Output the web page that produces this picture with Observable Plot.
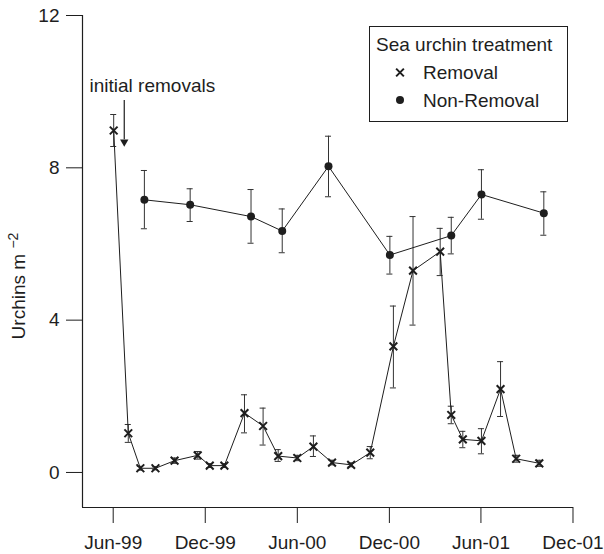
<!DOCTYPE html>
<html>
<head>
<meta charset="utf-8">
<script src="https://cdn.jsdelivr.net/npm/d3@7"></script>
<script src="https://cdn.jsdelivr.net/npm/@observablehq/plot@0.6"></script>
<style>
  html, body { margin: 0; padding: 0; background: #fff; }
</style>
</head>
<body>
<div id="chart"></div>
<script>
// ---- Data ----
const removalDates = ["1999-06-02","1999-07-01","1999-07-25","1999-08-24","1999-10-01","1999-11-16","1999-12-10","2000-01-08","2000-02-17","2000-03-25","2000-04-24","2000-06-01","2000-07-03","2000-08-09","2000-09-16","2000-10-24","2000-12-09","2001-01-17","2001-03-12","2001-04-03","2001-04-26","2001-06-02","2001-07-10","2001-08-10","2001-09-25"];
const removalMean  = [8.98, 1.03, 0.11, 0.11, 0.31, 0.45, 0.18, 0.18, 1.56, 1.22, 0.43, 0.38, 0.68, 0.26, 0.20, 0.52, 3.31, 5.30, 5.80, 1.51, 0.87, 0.83, 2.19, 0.36, 0.24];
const removalLow   = [8.56, 0.79, 0.06, 0.07, 0.24, 0.35, 0.13, 0.13, 1.04, 0.72, 0.29, 0.31, 0.42, 0.20, 0.15, 0.36, 2.22, 3.87, 5.17, 1.28, 0.65, 0.49, 1.47, 0.27, 0.16];
const removalHigh  = [9.40, 1.26, 0.16, 0.15, 0.38, 0.55, 0.23, 0.23, 2.04, 1.69, 0.60, 0.45, 0.96, 0.32, 0.25, 0.68, 4.37, 6.72, 6.41, 1.74, 1.08, 1.15, 2.91, 0.45, 0.32];

const nonRemovalDates = ["1999-08-02","1999-11-01","2000-03-01","2000-05-02","2000-08-02","2000-12-02","2001-04-03","2001-06-02","2001-10-04"];
const nonRemovalMean  = [7.16, 7.03, 6.72, 6.34, 8.04, 5.71, 6.22, 7.30, 6.81];
const nonRemovalLow   = [6.40, 6.59, 6.02, 5.77, 7.24, 5.21, 5.74, 6.65, 6.23];
const nonRemovalHigh  = [7.93, 7.45, 7.43, 6.92, 8.83, 6.20, 6.70, 7.95, 7.37];

const yTicks = [0, 4, 8, 12];
const xTickDates  = ["1999-06-01","1999-12-01","2000-06-01","2000-12-01","2001-06-01","2001-12-01"];
const xTickLabels = ["Jun-99","Dec-99","Jun-00","Dec-00","Jun-01","Dec-01"];

const seriesNames = ["Removal", "Non-Removal"];
const legendTitle = "Sea urchin treatment";
const annotationText = "initial removals";

// ---- Build ----
const parse = d3.utcParse("%Y-%m-%d");
const rows = (dates, mean, lo, hi, group) =>
  dates.map((d, i) => ({date: parse(d), mean: mean[i], lo: lo[i], hi: hi[i], group}));
const removal = rows(removalDates, removalMean, removalLow, removalHigh, seriesNames[0]);
const nonRemoval = rows(nonRemovalDates, nonRemovalMean, nonRemovalLow, nonRemovalHigh, seriesNames[1]);

const tickLabelMap = new Map(xTickDates.map((d, i) => [+parse(d), xTickLabels[i]]));

const ink = "#1e1e1e";
const barInk = "#333";
const font = "'Liberation Sans', Arial, Helvetica, sans-serif";
const fs = "19px";
const xStart = parse("1999-04-01"), xEnd = parse("2001-12-02");
const yMin = -0.92, yMax = 12;
const capDays = 6;

function errorBars(data) {
  return [
    Plot.ruleX(data, {x: "date", y1: "lo", y2: "hi", stroke: barInk, strokeWidth: 1}),
    Plot.ruleY(data, {y: "hi", x1: d => d3.utcDay.offset(d.date, -capDays), x2: d => d3.utcDay.offset(d.date, capDays), stroke: barInk, strokeWidth: 1}),
    Plot.ruleY(data, {y: "lo", x1: d => d3.utcDay.offset(d.date, -capDays), x2: d => d3.utcDay.offset(d.date, capDays), stroke: barInk, strokeWidth: 1})
  ];
}

const arrowX = parse("1999-06-23");
const textX = parse("1999-04-15");

const chart = Plot.plot({
  width: 604,
  height: 554,
  marginLeft: 82,
  marginRight: 31,
  marginTop: 15,
  marginBottom: 47,
  style: {fontFamily: font, fontSize: fs, color: ink, background: "#fff"},
  x: {type: "utc", domain: [xStart, xEnd]},
  y: {domain: [yMin, yMax]},
  marks: [
    Plot.axisX({ticks: xTickDates.map(parse), tickFormat: d => tickLabelMap.get(+d), tickSize: 16, tickPadding: 12, label: null}),
    Plot.axisY({ticks: yTicks, tickFormat: d3.format("d"), tickSize: 16, tickPadding: 7, label: null}),
    Plot.ruleX([xStart], {stroke: ink, strokeWidth: 1.2}),
    Plot.ruleY([yMin], {stroke: ink, strokeWidth: 1.2}),
    ...errorBars(nonRemoval),
    ...errorBars(removal),
    Plot.line(nonRemoval, {x: "date", y: "mean", stroke: ink, strokeWidth: 1}),
    Plot.line(removal, {x: "date", y: "mean", stroke: ink, strokeWidth: 1}),
    Plot.dot(nonRemoval, {x: "date", y: "mean", r: 4, fill: ink, stroke: "none"}),
    Plot.dot(removal, {x: "date", y: "mean", symbol: "times", r: 3.6, stroke: ink, strokeWidth: 2}),
    // annotation
    Plot.text([annotationText], {x: textX, y: 10.0, text: d => d, textAnchor: "start", lineAnchor: "bottom", fill: ink}),
    Plot.ruleX([arrowX], {x: d => d, y1: 9.77, y2: 8.74, stroke: ink, strokeWidth: 1.2}),
    Plot.dot([arrowX], {x: d => d, y: 8.68, symbol: "triangle", r: 3.1, rotate: 180, fill: ink, stroke: "none"})
  ]
});

// Y-axis title with superscript
const svg = d3.select(chart);
const yl = svg.append("text")
  .attr("transform", "translate(25,286) rotate(-90)")
  .attr("text-anchor", "middle")
  .attr("fill", ink)
  .style("font-family", font)
  .style("font-size", fs);
yl.append("tspan").text("Urchins m ");
yl.append("tspan").attr("dy", "-0.5em").style("font-size", "14px").text("\u22122");

// Legend
const lg = svg.append("g").style("font-family", font).style("font-size", fs)
  .attr("fill", ink).attr("text-anchor", "start");
lg.append("rect").attr("x", 369.5).attr("y", 26.5).attr("width", 198).attr("height", 95)
  .attr("fill", "#fff").attr("stroke", ink).attr("stroke-width", 1);
lg.append("text").attr("x", 376).attr("y", 51).text(legendTitle);
lg.append("path").attr("d", d3.symbol(d3.symbolTimes, Math.PI * 3.6 * 3.6)())
  .attr("transform", "translate(400,72.5)").attr("fill", "none").attr("stroke", ink).attr("stroke-width", 2);
lg.append("text").attr("x", 423).attr("y", 78.5).text(seriesNames[0]);
lg.append("circle").attr("cx", 400).attr("cy", 100).attr("r", 4).attr("fill", ink);
lg.append("text").attr("x", 423).attr("y", 106.5).text(seriesNames[1]);

document.getElementById("chart").appendChild(chart);
</script>
</body>
</html>
